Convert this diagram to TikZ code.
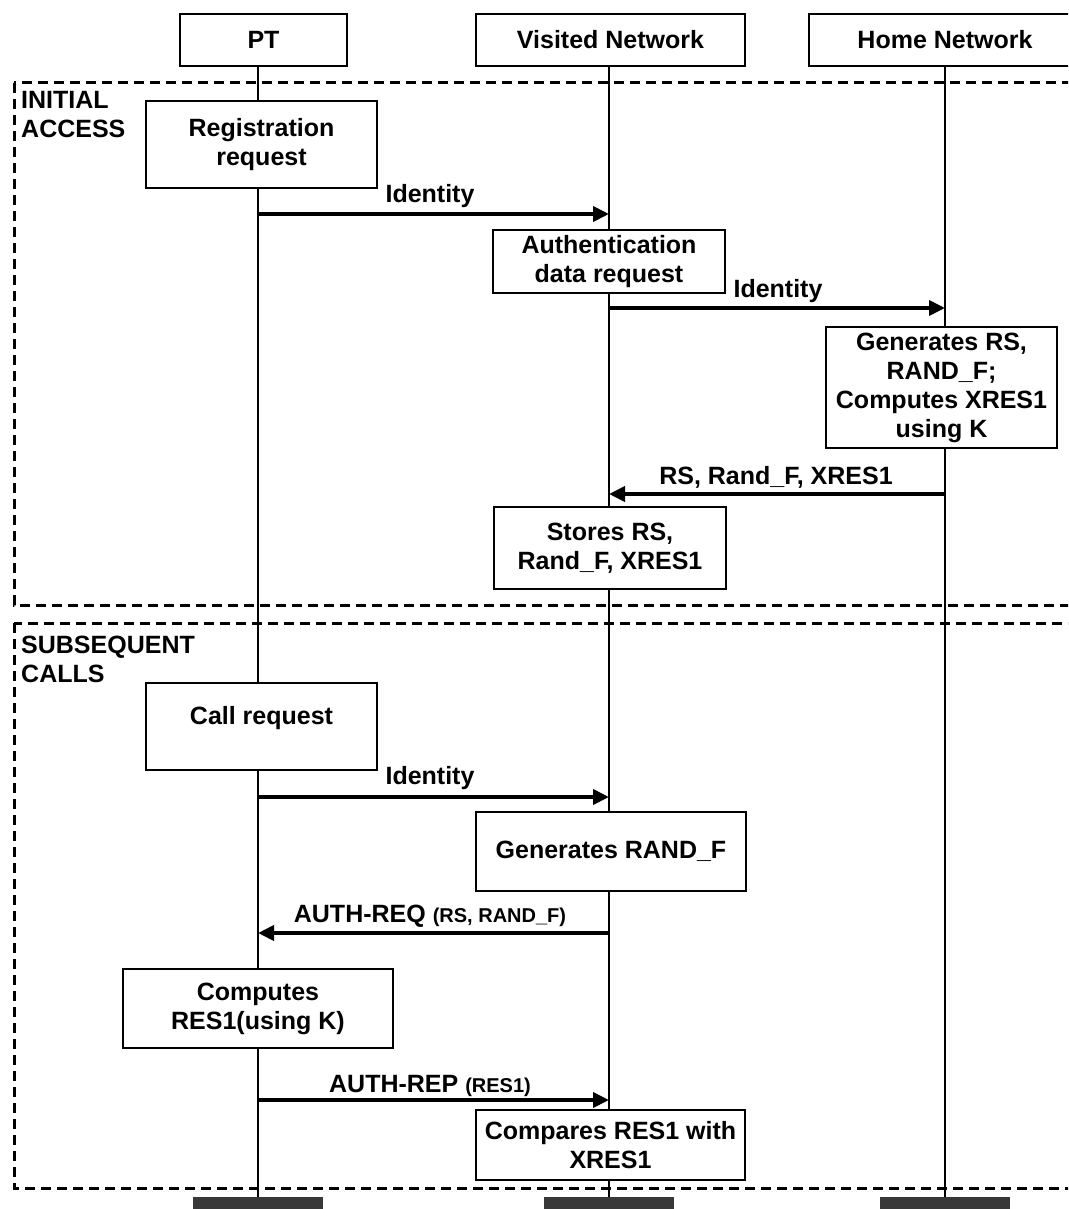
\documentclass[tikz,border=0pt]{standalone}
\usepackage{fontspec}
\setmainfont{Liberation Sans}
\usetikzlibrary{arrows.meta}
\begin{document}
\begin{tikzpicture}[x=1pt,y=-1pt,
  every node/.style={font=\fontsize{25}{29}\selectfont\bfseries, inner sep=0pt},
  box/.style={draw, line width=1.8pt, align=center, fill=white},
  life/.style={line width=1.5pt},
  msg/.style={line width=3.8pt, -{Triangle[length=16pt,width=15pt]}},
  frame/.style={line width=3pt, dash pattern=on 10pt off 6pt},
  endbar/.style={fill=black!78, draw=none, minimum width=130pt, minimum height=24pt, anchor=north},
  lbl/.style={anchor=base},
  sec/.style={align=left, anchor=north west}
]
\useasboundingbox (0,0) rectangle (1068,1209);
\clip (0,0) rectangle (1068,1209);

% frames
\draw[frame] (14,83) rectangle (1085,605);
\draw[frame] (14,623) rectangle (1085,1188);
\node[sec] (secA) at (21,91) {INITIAL\\ACCESS};
\node[sec] (secB) at (21,636) {SUBSEQUENT\\CALLS};

% heads
\node[box, minimum width=167pt, minimum height=52pt] (pt) at (263.5,40) {PT};
\node[box, minimum width=269pt, minimum height=52pt] (vn) at (610.5,40) {Visited Network};
\node[box, minimum width=272pt, minimum height=52pt] (hn) at (945,40) {Home Network};

% end bars
\node[endbar] (ptend) at (258,1197) {};
\node[endbar] (vnend) at (609,1197) {};
\node[endbar] (hnend) at (945,1197) {};

% lifelines
\draw[life] (ptend.north |- pt.south) -- (ptend.north);
\draw[life] (vnend.north |- vn.south) -- (vnend.north);
\draw[life] (hnend.north |- hn.south) -- (hnend.north);

% activity boxes
\node[box, minimum width=231pt, minimum height=87pt] (reg) at (261.5,144.5) {Registration\\request};
\node[box, minimum width=232pt, minimum height=63pt] (auth) at (609,261.5) {Authentication\\data request};
\node[box, minimum width=231pt, minimum height=121pt] (gen) at (941.5,387.5) {Generates RS,\\RAND\_F;\\Computes XRES1\\using K};
\node[box, minimum width=232pt, minimum height=82pt] (store) at (610,548) {Stores RS,\\Rand\_F, XRES1};
\node[box, minimum width=231pt, minimum height=87pt] (call) at (261.5,726.5) {Call request\\[-6pt]~};
\node[box, minimum width=270pt, minimum height=79pt] (genr) at (611,851.5) {Generates RAND\_F};
\node[box, minimum width=270pt, minimum height=79pt] (comp) at (258,1008.5) {Computes\\RES1(using K)};
\node[box, minimum width=269pt, minimum height=70pt] (cmp) at (610.5,1145) {Compares RES1 with\\XRES1};

% message coordinates
\coordinate (m1s) at (258,214);  \coordinate (m1e) at (609,214);
\coordinate (m2s) at (609,308);  \coordinate (m2e) at (945,308);
\coordinate (m3s) at (945,494);  \coordinate (m3e) at (609,494);
\coordinate (m4s) at (258,797);  \coordinate (m4e) at (609,797);
\coordinate (m5s) at (609,933);  \coordinate (m5e) at (258,933);
\coordinate (m6s) at (258,1100); \coordinate (m6e) at (609,1100);

\draw[msg] (m1s) -- (m1e);
\draw[msg] (m2s) -- (m2e);
\draw[msg] (m3s) -- (m3e);
\draw[msg] (m4s) -- (m4e);
\draw[msg] (m5s) -- (m5e);
\draw[msg] (m6s) -- (m6e);

% message labels
\node[lbl] (l1) at (430,203) {Identity};
\node[lbl] (l2) at (778,297) {Identity};
\node[lbl] (l3) at (776,484) {RS, Rand\_F, XRES1};
\node[lbl] (l4) at (430,784) {Identity};
\node[lbl] (l5) at (430,922) {AUTH-REQ {\fontsize{20}{24}\selectfont(RS, RAND\_F)}};
\node[lbl] (l6) at (430,1092) {AUTH-REP {\fontsize{20}{24}\selectfont(RES1)}};
\end{tikzpicture}
\end{document}
